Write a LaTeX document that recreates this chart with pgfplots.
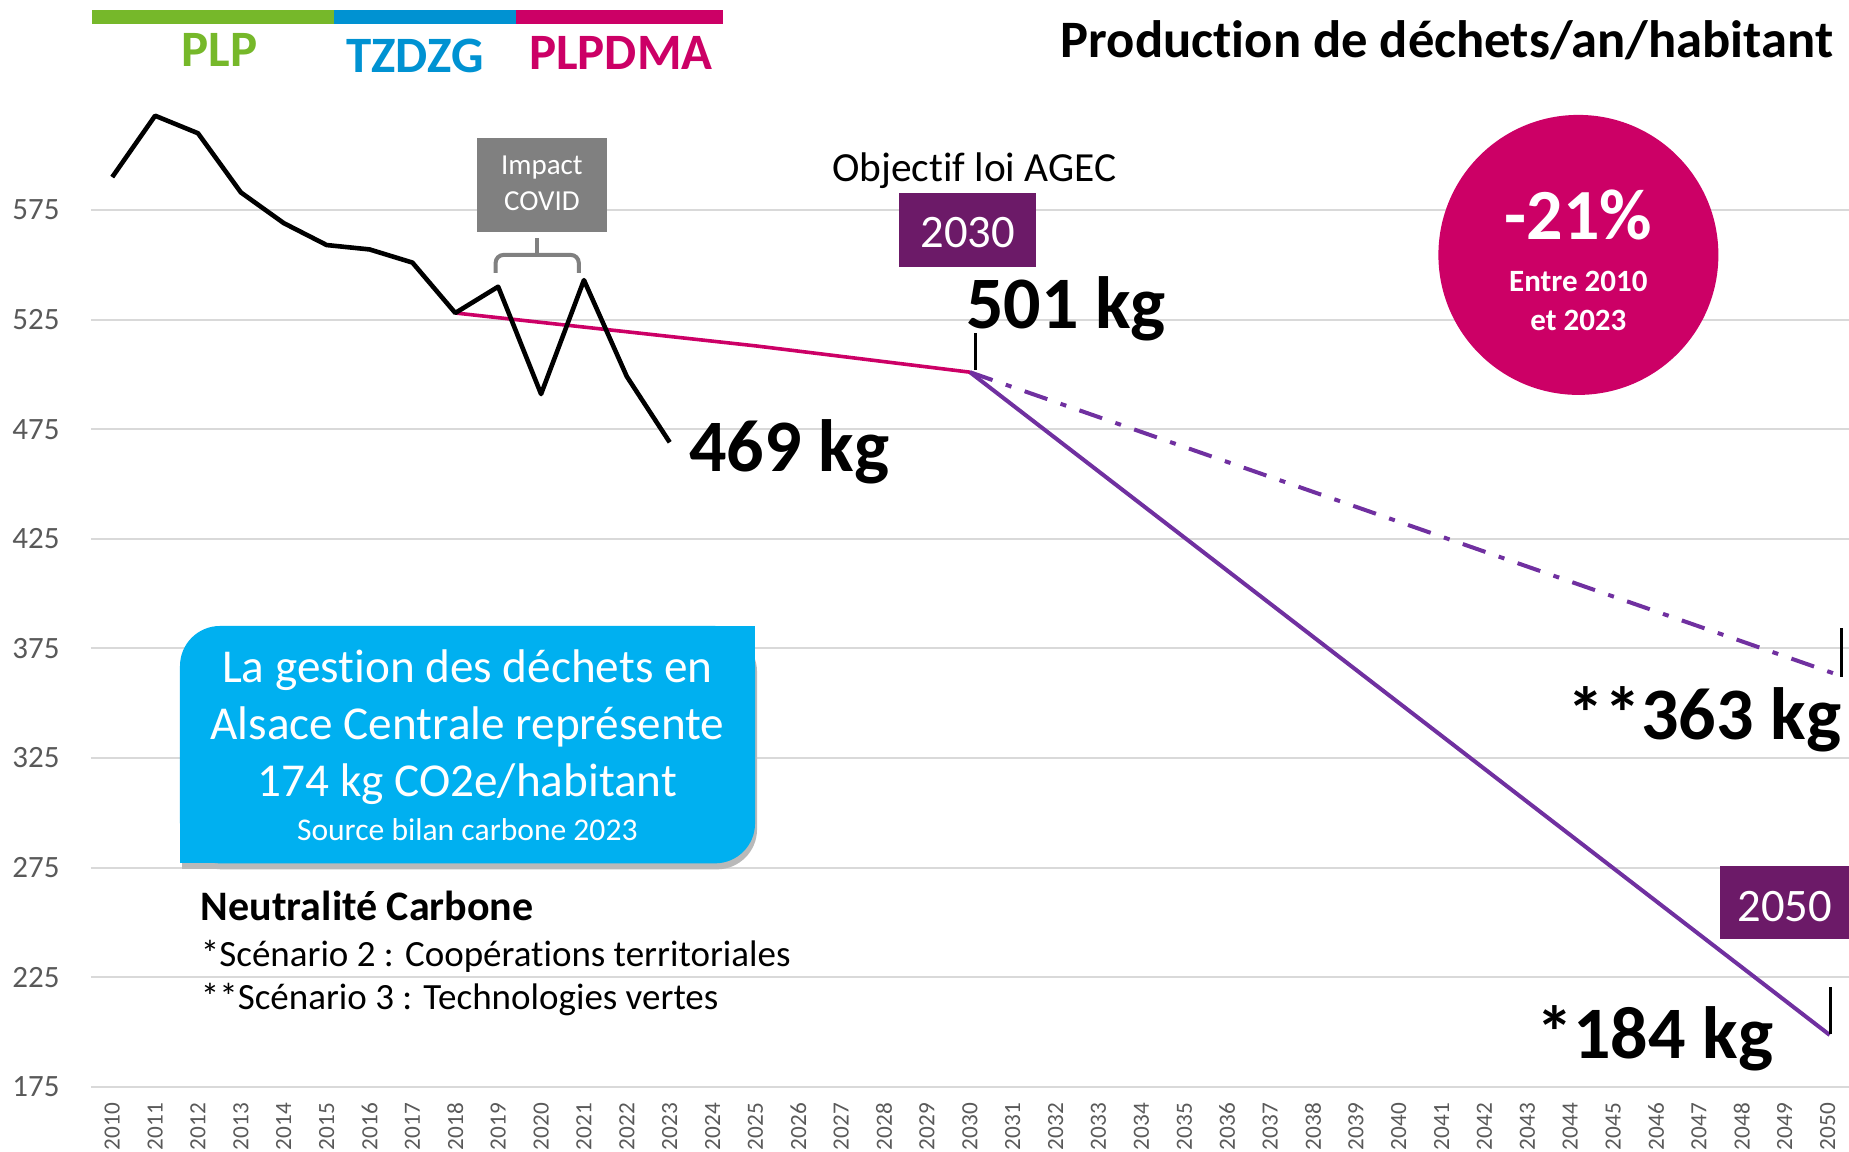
\documentclass[border=0pt]{standalone}
\usepackage{pgfplots}
\pgfplotsset{compat=1.18}
\usepackage{fontspec}
\setmainfont[Ligatures=NoCommon]{Carlito}
\definecolor{plpgreen}{RGB}{118,184,42}
\definecolor{tzblue}{RGB}{0,146,210}
\definecolor{pmag}{RGB}{204,0,102}
\definecolor{pbox}{RGB}{108,26,104}
\definecolor{pline}{RGB}{112,48,160}
\definecolor{cbox}{RGB}{0,176,240}
\definecolor{gbox}{RGB}{128,128,128}
\definecolor{gridc}{RGB}{217,217,217}
\definecolor{tickc}{RGB}{89,89,89}
\definecolor{shadowc}{RGB}{185,185,185}
\newcommand\sz[1]{\fontsize{#1}{#1}\selectfont}
\begin{document}
\begin{tikzpicture}
\useasboundingbox (-45.4pt,-32.65pt) rectangle (879.1pt,543.35pt);
\begin{axis}[
  at={(0pt,0pt)}, anchor=south west, scale only axis,
  width=879.1pt, height=543.35pt,
  xmin=2009.5, xmax=2050.5, ymin=175, ymax=670.8,
  clip=false,
  axis line style={draw=none},
  major tick length=0pt,
  ymajorgrids, grid style={gridc, line width=1pt},
  ytick={175,225,...,575},
  xtick={2010,2011,...,2050},
  /pgf/number format/assume math mode=true,
  /pgf/number format/1000 sep={},
  yticklabel style={font=\sz{15.5}, text=tickc, inner xsep=15.4pt, inner ysep=0pt},
  xticklabel style={font=\sz{11.6}, text=tickc, rotate=90, anchor=east, inner xsep=8pt, inner ysep=0pt},
  no markers,
]
% purple scenarios
\addplot[pline, line width=2pt, dash pattern=on 12pt off 7pt on 3pt off 7pt] coordinates {(2030,501) (2050.3,362.5)};
\addplot[pline, line width=2pt] coordinates {(2030,501) (2050.05,198.6)};
% magenta objective
\addplot[pmag, line width=1.8pt] coordinates {(2018,528) (2025,513) (2030,501)};
% black history
\addplot[black, line width=2.3pt, line join=round] coordinates {
(2010,590) (2011,618) (2012,610) (2013,583) (2014,569) (2015,559) (2016,557)
(2017,551) (2018,528) (2019,540) (2020,491) (2021,543) (2022,499) (2023,469)};
% small vertical markers
\addplot[black, line width=1.5pt] coordinates {(2030.12,502) (2030.12,519)};
\addplot[black, line width=1.5pt] coordinates {(2050.33,362.1) (2050.33,384.1)};
\addplot[black, line width=1.5pt] coordinates {(2050.06,198.9) (2050.06,220.4)};

% top bars
\draw[plpgreen, line width=7pt] (axis cs:2009.53,663) -- (axis cs:2015.18,663);
\draw[tzblue, line width=7pt] (axis cs:2015.18,663) -- (axis cs:2019.41,663);
\draw[pmag, line width=7pt] (axis cs:2019.41,663) -- (axis cs:2024.25,663);
\node[anchor=base, inner sep=0pt, font=\sz{25.5}\bfseries, text=plpgreen] at (axis cs:2012.5,640.4) {PLP};
\node[anchor=base, inner sep=0pt, font=\sz{25.5}\bfseries, text=tzblue] at (axis cs:2017.06,637.6) {TZDZG};
\node[anchor=base, inner sep=0pt, font=\sz{25.5}\bfseries, text=pmag] at (axis cs:2021.86,638.9) {PLPDMA};

% title
\node[anchor=base east, inner sep=0pt, font=\sz{26.3}\bfseries] at (axis cs:2050.14,644.7) {Production de déchets/an/habitant};

% Impact COVID
\fill[gbox] (axis cs:2018.5,564.8) rectangle (axis cs:2021.53,608);
\node[anchor=base, inner sep=0pt, font=\sz{14.5}, text=white] at (axis cs:2020.02,591) {Impact};
\node[anchor=base, inner sep=0pt, font=\sz{14.5}, text=white] at (axis cs:2020.02,574.7) {COVID};
\draw[gbox, line width=2pt, rounded corners=4pt] (axis cs:2018.94,546.3) -- (axis cs:2018.94,554.5) -- (axis cs:2020.88,554.5) -- (axis cs:2020.88,546.3);
\draw[gbox, line width=2pt] (axis cs:2019.91,554.5) -- (axis cs:2019.91,562);

% Objectif 2030
\node[anchor=base, inner sep=0pt, font=\sz{20.7}] at (axis cs:2030.1,587.9) {Objectif loi AGEC};
\fill[pbox] (axis cs:2028.35,549.2) rectangle (axis cs:2031.53,582.9);
\node[anchor=base, inner sep=0pt, font=\sz{23.3}, text=white] at (axis cs:2029.95,558) {2030};
\node[anchor=base west, inner sep=0pt, font=\sz{37}\bfseries] at (axis cs:2029.9,521) {501 kg};
\node[anchor=base west, inner sep=0pt, font=\sz{37}\bfseries] at (axis cs:2023.45,455.6) {469 kg};

% circle
\fill[pmag] (axis cs:2044.19,554.5) circle[radius=70pt];
\node[anchor=base, inner sep=0pt, font=\sz{36}\bfseries, text=white] at (axis cs:2044.19,561.3) {-21\%};
\node[anchor=base, inner sep=0pt, font=\sz{15.5}\bfseries, text=white] at (axis cs:2044.19,537.7) {Entre 2010};
\node[anchor=base, inner sep=0pt, font=\sz{15.5}\bfseries, text=white] at (axis cs:2044.19,520.2) {et 2023};

% 2050 labels
\node[anchor=base east, inner sep=0pt, font=\sz{37}\bfseries] at (axis cs:2050.33,333.2) {**363 kg};
\fill[pbox] (axis cs:2047.49,242.2) rectangle (axis cs:2050.5,275.7);
\node[anchor=base, inner sep=0pt, font=\sz{23.3}, text=white] at (axis cs:2049.0,250.3) {2050};
\node[anchor=base east, inner sep=0pt, font=\sz{37}\bfseries] at (axis cs:2048.74,188) {*184 kg};

% blue box with shadow
\fill[shadowc, rounded corners=20pt] ([xshift=1pt,yshift=-3pt]axis cs:2011.58,276.9) rectangle ([xshift=1pt,yshift=-3pt]axis cs:2024.99,385.2);
\fill[shadowc] ([xshift=1pt,yshift=-3pt]axis cs:2011.58,276.9) rectangle ([xshift=23pt,yshift=19pt]axis cs:2011.58,276.9);
\fill[cbox, rounded corners=20pt] (axis cs:2011.58,276.9) rectangle (axis cs:2024.99,385.2);
\fill[cbox] (axis cs:2024.99,385.2) rectangle ([xshift=-22pt,yshift=-22pt]axis cs:2024.99,385.2);
\fill[cbox] (axis cs:2011.58,276.9) rectangle ([xshift=22pt,yshift=22pt]axis cs:2011.58,276.9);
\node[anchor=base, inner sep=0pt, font=\sz{23.6}, text=white] at (axis cs:2018.28,359.3) {La gestion des déchets en};
\node[anchor=base, inner sep=0pt, font=\sz{23.6}, text=white] at (axis cs:2018.28,333.4) {Alsace Centrale représente};
\node[anchor=base, inner sep=0pt, font=\sz{23.6}, text=white] at (axis cs:2018.28,307.3) {174 kg CO2e/habitant};
\node[anchor=base, inner sep=0pt, font=\sz{15.8}, text=white] at (axis cs:2018.28,287.5) {Source bilan carbone 2023};

% Neutralité
\node[anchor=base west, inner sep=0pt, font=\sz{21}\bfseries] at (axis cs:2012.06,251) {Neutralité Carbone};
\node[anchor=base west, inner sep=0pt, font=\sz{18.5}] at (axis cs:2012.06,229.7) {*Scénario 2 : Coopérations territoriales};
\node[anchor=base west, inner sep=0pt, font=\sz{18.5}] at (axis cs:2012.06,210) {**Scénario 3 : Technologies vertes};
\end{axis}
\end{tikzpicture}
\end{document}
